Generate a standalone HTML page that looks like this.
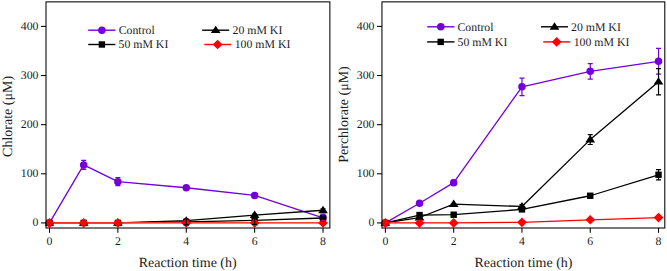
<!DOCTYPE html>
<html><head><meta charset="utf-8"><style>
html,body{margin:0;padding:0;background:#fff;}
body{width:667px;height:271px;overflow:hidden;}
svg{display:block;text-rendering:geometricPrecision;}
.tk{font-family:"Liberation Serif",serif;font-size:11.8px;fill:#1c1c1c;}
.lg{font-family:"Liberation Serif",serif;font-size:11.8px;fill:#1c1c1c;}
.ti{font-family:"Liberation Serif",serif;font-size:14px;fill:#1c1c1c;}
</style></head><body>
<svg width="667" height="271" viewBox="0 0 667 271">
<rect width="667" height="271" fill="#fff"/>
<polyline points="49.50,222.92 83.69,164.95 117.88,181.65 186.26,187.74 254.64,195.41 323.02,217.76" fill="none" stroke="#7300DC" stroke-width="1.3" stroke-linejoin="round"/>
<circle cx="49.50" cy="222.92" r="3.75" fill="#7300DC"/>
<circle cx="83.69" cy="164.95" r="3.75" fill="#7300DC"/>
<circle cx="117.88" cy="181.65" r="3.75" fill="#7300DC"/>
<circle cx="186.26" cy="187.74" r="3.75" fill="#7300DC"/>
<circle cx="254.64" cy="195.41" r="3.75" fill="#7300DC"/>
<circle cx="323.02" cy="217.76" r="3.75" fill="#7300DC"/>
<polyline points="49.50,222.92 83.69,222.92 117.88,222.92 186.26,220.71 254.64,215.06 323.02,210.24" fill="none" stroke="#000000" stroke-width="1.3" stroke-linejoin="round"/>
<polygon points="49.50,218.42 54.40,225.82 44.60,225.82" fill="#000000"/>
<polygon points="83.69,218.42 88.59,225.82 78.79,225.82" fill="#000000"/>
<polygon points="117.88,218.42 122.78,225.82 112.98,225.82" fill="#000000"/>
<polygon points="186.26,216.21 191.16,223.61 181.36,223.61" fill="#000000"/>
<polygon points="254.64,210.56 259.54,217.96 249.74,217.96" fill="#000000"/>
<polygon points="323.02,205.74 327.92,213.14 318.12,213.14" fill="#000000"/>
<polyline points="49.50,222.92 83.69,222.92 117.88,222.92 186.26,221.94 254.64,220.46 323.02,218.01" fill="none" stroke="#000000" stroke-width="1.3" stroke-linejoin="round"/>
<rect x="46.30" y="219.72" width="6.4" height="6.4" fill="#000000"/>
<rect x="80.49" y="219.72" width="6.4" height="6.4" fill="#000000"/>
<rect x="114.68" y="219.72" width="6.4" height="6.4" fill="#000000"/>
<rect x="183.06" y="218.74" width="6.4" height="6.4" fill="#000000"/>
<rect x="251.44" y="217.26" width="6.4" height="6.4" fill="#000000"/>
<rect x="319.82" y="214.81" width="6.4" height="6.4" fill="#000000"/>
<polyline points="49.50,222.92 83.69,222.92 117.88,222.92 186.26,222.92 254.64,222.92 323.02,222.92" fill="none" stroke="#fff" stroke-width="1.35" stroke-linejoin="round"/>
<polyline points="49.50,222.92 83.69,222.92 117.88,222.92 186.26,222.92 254.64,222.92 323.02,222.92" fill="none" stroke="#FF0000" stroke-width="1.35" stroke-linejoin="round"/>
<polygon points="49.50,218.12 54.40,222.92 49.50,227.72 44.60,222.92" fill="#FF0000"/>
<polygon points="83.69,218.12 88.59,222.92 83.69,227.72 78.79,222.92" fill="#FF0000"/>
<polygon points="117.88,218.12 122.78,222.92 117.88,227.72 112.98,222.92" fill="#FF0000"/>
<polygon points="186.26,218.12 191.16,222.92 186.26,227.72 181.36,222.92" fill="#FF0000"/>
<polygon points="254.64,218.12 259.54,222.92 254.64,227.72 249.74,222.92" fill="#FF0000"/>
<polygon points="323.02,218.12 327.92,222.92 323.02,227.72 318.12,222.92" fill="#FF0000"/>
<path d="M83.69 160.43V169.47M81.19 160.43H86.19M81.19 169.47H86.19" stroke="#7300DC" stroke-width="1.2" fill="none"/>
<path d="M117.88 177.72V185.58M115.38 177.72H120.38M115.38 185.58H120.38" stroke="#7300DC" stroke-width="1.2" fill="none"/>
<path d="M186.26 186.27V189.22M183.76 186.27H188.76M183.76 189.22H188.76" stroke="#7300DC" stroke-width="1.2" fill="none"/>
<path d="M254.64 194.42V196.39M252.14 194.42H257.14M252.14 196.39H257.14" stroke="#7300DC" stroke-width="1.2" fill="none"/>
<path d="M323.02 214.08V221.45M320.52 214.08H325.52M320.52 221.45H325.52" stroke="#7300DC" stroke-width="1.2" fill="none"/>
<path d="M254.64 214.08V216.04M252.14 214.08H257.14M252.14 216.04H257.14" stroke="#000000" stroke-width="1.2" fill="none"/>
<path d="M323.02 208.77V211.72M320.52 208.77H325.52M320.52 211.72H325.52" stroke="#000000" stroke-width="1.2" fill="none"/>
<path d="M186.26 218.99V224.89M183.76 218.99H188.76M183.76 224.89H188.76" stroke="#000000" stroke-width="1.2" fill="none"/>
<path d="M254.64 216.53V224.39M252.14 216.53H257.14M252.14 224.39H257.14" stroke="#000000" stroke-width="1.2" fill="none"/>
<path d="M323.02 217.02V218.99M320.52 217.02H325.52M320.52 218.99H325.52" stroke="#000000" stroke-width="1.2" fill="none"/>
<rect x="46.0" y="1.87" width="283.87" height="226.13" fill="none" stroke="#000000" stroke-width="1.05"/>
<line x1="41.00" y1="222.92" x2="46.00" y2="222.92" stroke="#000000" stroke-width="1.05"/>
<text x="38.50" y="226.22" class="tk" text-anchor="end">0</text>
<line x1="41.00" y1="173.79" x2="46.00" y2="173.79" stroke="#000000" stroke-width="1.05"/>
<text x="38.50" y="177.09" class="tk" text-anchor="end">100</text>
<line x1="41.00" y1="124.66" x2="46.00" y2="124.66" stroke="#000000" stroke-width="1.05"/>
<text x="38.50" y="127.96" class="tk" text-anchor="end">200</text>
<line x1="41.00" y1="75.53" x2="46.00" y2="75.53" stroke="#000000" stroke-width="1.05"/>
<text x="38.50" y="78.83" class="tk" text-anchor="end">300</text>
<line x1="41.00" y1="26.40" x2="46.00" y2="26.40" stroke="#000000" stroke-width="1.05"/>
<text x="38.50" y="29.70" class="tk" text-anchor="end">400</text>
<line x1="49.50" y1="228.00" x2="49.50" y2="232.80" stroke="#000000" stroke-width="1.05"/>
<text x="49.50" y="244.6" class="tk" text-anchor="middle">0</text>
<line x1="117.88" y1="228.00" x2="117.88" y2="232.80" stroke="#000000" stroke-width="1.05"/>
<text x="117.88" y="244.6" class="tk" text-anchor="middle">2</text>
<line x1="186.26" y1="228.00" x2="186.26" y2="232.80" stroke="#000000" stroke-width="1.05"/>
<text x="186.26" y="244.6" class="tk" text-anchor="middle">4</text>
<line x1="254.64" y1="228.00" x2="254.64" y2="232.80" stroke="#000000" stroke-width="1.05"/>
<text x="254.64" y="244.6" class="tk" text-anchor="middle">6</text>
<line x1="323.02" y1="228.00" x2="323.02" y2="232.80" stroke="#000000" stroke-width="1.05"/>
<text x="323.02" y="244.6" class="tk" text-anchor="middle">8</text>
<text x="187.70" y="266.6" class="ti" text-anchor="middle">Reaction time (h)</text>
<text transform="translate(11.80,116.40) rotate(-90)" class="ti" text-anchor="middle">Chlorate (&#956;M)</text>
<line x1="88.2" y1="30.2" x2="115.5" y2="30.2" stroke="#7300DC" stroke-width="1.4"/>
<circle cx="101.90" cy="30.20" r="3.75" fill="#7300DC"/>
<text x="118.7" y="34.10" class="lg">Control</text>
<line x1="202.2" y1="30.2" x2="229.2" y2="30.2" stroke="#000000" stroke-width="1.4"/>
<polygon points="215.70,25.70 220.60,33.10 210.80,33.10" fill="#000000"/>
<text x="232.5" y="34.10" class="lg">20 mM KI</text>
<line x1="88.2" y1="44.5" x2="115.4" y2="44.5" stroke="#000000" stroke-width="1.4"/>
<rect x="98.70" y="41.30" width="6.4" height="6.4" fill="#000000"/>
<text x="118.5" y="48.40" class="lg">50 mM KI</text>
<line x1="204.3" y1="44.5" x2="231.3" y2="44.5" stroke="#FF0000" stroke-width="1.4"/>
<polygon points="217.60,39.70 222.50,44.50 217.60,49.30 212.70,44.50" fill="#FF0000"/>
<text x="234.7" y="48.40" class="lg">100 mM KI</text>
<polyline points="385.40,222.92 419.54,203.27 453.68,182.63 521.96,86.83 590.24,71.35 658.52,61.28" fill="none" stroke="#7300DC" stroke-width="1.3" stroke-linejoin="round"/>
<circle cx="385.40" cy="222.92" r="3.75" fill="#7300DC"/>
<circle cx="419.54" cy="203.27" r="3.75" fill="#7300DC"/>
<circle cx="453.68" cy="182.63" r="3.75" fill="#7300DC"/>
<circle cx="521.96" cy="86.83" r="3.75" fill="#7300DC"/>
<circle cx="590.24" cy="71.35" r="3.75" fill="#7300DC"/>
<circle cx="658.52" cy="61.28" r="3.75" fill="#7300DC"/>
<polyline points="385.40,222.92 419.54,217.52 453.68,204.10 521.96,206.46 590.24,139.60 658.52,81.67" fill="none" stroke="#000000" stroke-width="1.3" stroke-linejoin="round"/>
<polygon points="385.40,218.42 390.30,225.82 380.50,225.82" fill="#000000"/>
<polygon points="419.54,213.02 424.44,220.42 414.64,220.42" fill="#000000"/>
<polygon points="453.68,199.60 458.58,207.00 448.78,207.00" fill="#000000"/>
<polygon points="521.96,201.96 526.86,209.36 517.06,209.36" fill="#000000"/>
<polygon points="590.24,135.10 595.14,142.50 585.34,142.50" fill="#000000"/>
<polygon points="658.52,77.17 663.42,84.57 653.62,84.57" fill="#000000"/>
<polyline points="385.40,222.92 419.54,215.06 453.68,214.72 521.96,209.41 590.24,195.75 658.52,174.77" fill="none" stroke="#000000" stroke-width="1.3" stroke-linejoin="round"/>
<rect x="382.20" y="219.72" width="6.4" height="6.4" fill="#000000"/>
<rect x="416.34" y="211.86" width="6.4" height="6.4" fill="#000000"/>
<rect x="450.48" y="211.52" width="6.4" height="6.4" fill="#000000"/>
<rect x="518.76" y="206.21" width="6.4" height="6.4" fill="#000000"/>
<rect x="587.04" y="192.55" width="6.4" height="6.4" fill="#000000"/>
<rect x="655.32" y="171.57" width="6.4" height="6.4" fill="#000000"/>
<polyline points="385.40,222.92 419.54,222.92 453.68,222.92 521.96,222.33 590.24,219.82 658.52,217.61" fill="none" stroke="#fff" stroke-width="1.3" stroke-linejoin="round"/>
<polyline points="385.40,222.92 419.54,222.92 453.68,222.92 521.96,222.33 590.24,219.82 658.52,217.61" fill="none" stroke="#FF0000" stroke-width="1.3" stroke-linejoin="round"/>
<polygon points="385.40,218.12 390.30,222.92 385.40,227.72 380.50,222.92" fill="#FF0000"/>
<polygon points="419.54,218.12 424.44,222.92 419.54,227.72 414.64,222.92" fill="#FF0000"/>
<polygon points="453.68,218.12 458.58,222.92 453.68,227.72 448.78,222.92" fill="#FF0000"/>
<polygon points="521.96,217.53 526.86,222.33 521.96,227.13 517.06,222.33" fill="#FF0000"/>
<polygon points="590.24,215.02 595.14,219.82 590.24,224.62 585.34,219.82" fill="#FF0000"/>
<polygon points="658.52,212.81 663.42,217.61 658.52,222.41 653.62,217.61" fill="#FF0000"/>
<path d="M419.54 201.79V204.74M417.04 201.79H422.04M417.04 204.74H422.04" stroke="#7300DC" stroke-width="1.2" fill="none"/>
<path d="M453.68 180.18V185.09M451.18 180.18H456.18M451.18 185.09H456.18" stroke="#7300DC" stroke-width="1.2" fill="none"/>
<path d="M521.96 78.08V95.58M519.46 78.08H524.46M519.46 95.58H524.46" stroke="#7300DC" stroke-width="1.2" fill="none"/>
<path d="M590.24 63.59V79.12M587.74 63.59H592.74M587.74 79.12H592.74" stroke="#7300DC" stroke-width="1.2" fill="none"/>
<path d="M658.52 48.41V74.15M656.02 48.41H661.02M656.02 74.15H661.02" stroke="#7300DC" stroke-width="1.2" fill="none"/>
<path d="M419.54 216.04V218.99M417.04 216.04H422.04M417.04 218.99H422.04" stroke="#000000" stroke-width="1.2" fill="none"/>
<path d="M521.96 204.50V208.43M519.46 204.50H524.46M519.46 208.43H524.46" stroke="#000000" stroke-width="1.2" fill="none"/>
<path d="M590.24 134.68V144.51M587.74 134.68H592.74M587.74 144.51H592.74" stroke="#000000" stroke-width="1.2" fill="none"/>
<path d="M658.52 68.55V94.79M656.02 68.55H661.02M656.02 94.79H661.02" stroke="#000000" stroke-width="1.2" fill="none"/>
<path d="M419.54 214.08V216.04M417.04 214.08H422.04M417.04 216.04H422.04" stroke="#000000" stroke-width="1.2" fill="none"/>
<path d="M453.68 213.73V215.70M451.18 213.73H456.18M451.18 215.70H456.18" stroke="#000000" stroke-width="1.2" fill="none"/>
<path d="M521.96 207.94V210.88M519.46 207.94H524.46M519.46 210.88H524.46" stroke="#000000" stroke-width="1.2" fill="none"/>
<path d="M590.24 193.79V197.72M587.74 193.79H592.74M587.74 197.72H592.74" stroke="#000000" stroke-width="1.2" fill="none"/>
<path d="M658.52 169.61V179.93M656.02 169.61H661.02M656.02 179.93H661.02" stroke="#000000" stroke-width="1.2" fill="none"/>
<rect x="381.95" y="1.87" width="282.85" height="226.13" fill="none" stroke="#000000" stroke-width="1.05"/>
<line x1="376.95" y1="222.92" x2="381.95" y2="222.92" stroke="#000000" stroke-width="1.05"/>
<text x="374.45" y="226.22" class="tk" text-anchor="end">0</text>
<line x1="376.95" y1="173.79" x2="381.95" y2="173.79" stroke="#000000" stroke-width="1.05"/>
<text x="374.45" y="177.09" class="tk" text-anchor="end">100</text>
<line x1="376.95" y1="124.66" x2="381.95" y2="124.66" stroke="#000000" stroke-width="1.05"/>
<text x="374.45" y="127.96" class="tk" text-anchor="end">200</text>
<line x1="376.95" y1="75.53" x2="381.95" y2="75.53" stroke="#000000" stroke-width="1.05"/>
<text x="374.45" y="78.83" class="tk" text-anchor="end">300</text>
<line x1="376.95" y1="26.40" x2="381.95" y2="26.40" stroke="#000000" stroke-width="1.05"/>
<text x="374.45" y="29.70" class="tk" text-anchor="end">400</text>
<line x1="385.40" y1="228.00" x2="385.40" y2="232.80" stroke="#000000" stroke-width="1.05"/>
<text x="385.40" y="244.6" class="tk" text-anchor="middle">0</text>
<line x1="453.68" y1="228.00" x2="453.68" y2="232.80" stroke="#000000" stroke-width="1.05"/>
<text x="453.68" y="244.6" class="tk" text-anchor="middle">2</text>
<line x1="521.96" y1="228.00" x2="521.96" y2="232.80" stroke="#000000" stroke-width="1.05"/>
<text x="521.96" y="244.6" class="tk" text-anchor="middle">4</text>
<line x1="590.24" y1="228.00" x2="590.24" y2="232.80" stroke="#000000" stroke-width="1.05"/>
<text x="590.24" y="244.6" class="tk" text-anchor="middle">6</text>
<line x1="658.52" y1="228.00" x2="658.52" y2="232.80" stroke="#000000" stroke-width="1.05"/>
<text x="658.52" y="244.6" class="tk" text-anchor="middle">8</text>
<text x="523.50" y="266.6" class="ti" text-anchor="middle">Reaction time (h)</text>
<text transform="translate(348.00,114.50) rotate(-90)" class="ti" text-anchor="middle">Perchlorate (&#956;M)</text>
<line x1="427.2" y1="26.8" x2="454.5" y2="26.8" stroke="#7300DC" stroke-width="1.4"/>
<circle cx="440.80" cy="26.80" r="3.75" fill="#7300DC"/>
<text x="457.5" y="30.70" class="lg">Control</text>
<line x1="541.0" y1="26.8" x2="568.0" y2="26.8" stroke="#000000" stroke-width="1.4"/>
<polygon points="554.50,22.30 559.40,29.70 549.60,29.70" fill="#000000"/>
<text x="571.0" y="30.70" class="lg">20 mM KI</text>
<line x1="427.2" y1="41.9" x2="454.5" y2="41.9" stroke="#000000" stroke-width="1.4"/>
<rect x="437.50" y="38.70" width="6.4" height="6.4" fill="#000000"/>
<text x="457.5" y="45.80" class="lg">50 mM KI</text>
<line x1="543.2" y1="41.9" x2="570.2" y2="41.9" stroke="#FF0000" stroke-width="1.4"/>
<polygon points="556.70,37.10 561.60,41.90 556.70,46.70 551.80,41.90" fill="#FF0000"/>
<text x="573.7" y="45.80" class="lg">100 mM KI</text>
</svg>
</body></html>
